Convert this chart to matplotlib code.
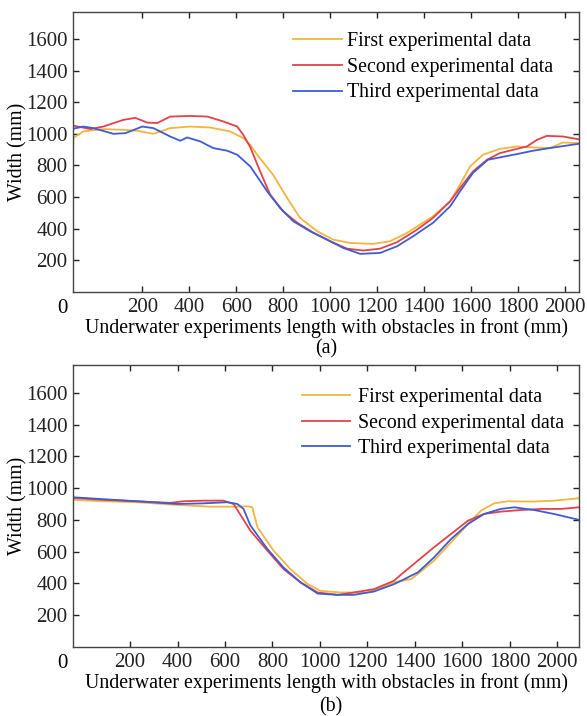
import matplotlib
matplotlib.use("Agg")
import matplotlib.pyplot as plt

plt.rcParams["font.family"] = ["Liberation Serif", "DejaVu Serif"]

# ---- panel (a) ----
a1_x = [-95, -51, 34, 119, 179, 247, 319, 404, 489, 574, 630, 660, 689, 757, 817, 872,
        945, 1013, 1085, 1183, 1255, 1328, 1383, 1438, 1511, 1553, 1596, 1651, 1723,
        1796, 1864, 1936, 1991, 2060]
a1_y = [973, 1015, 1030, 1025, 1019, 1000, 1036, 1046, 1040, 1015, 973, 930, 868, 741,
        594, 468, 384, 331, 310, 304, 321, 374, 426, 478, 573, 678, 794, 868, 905, 920,
        914, 910, 945, 941]

a2_x = [-95, -21, 34, 119, 170, 221, 264, 319, 404, 477, 545, 604, 630, 660, 702, 745,
        800, 860, 928, 1000, 1072, 1140, 1213, 1285, 1370, 1438, 1511, 1553, 1608, 1668,
        1723, 1796, 1838, 1881, 1923, 1991, 2060]
a2_y = [1052, 1030, 1046, 1088, 1101, 1071, 1068, 1109, 1113, 1109, 1078, 1046, 994, 915,
        762, 615, 510, 438, 375, 321, 274, 262, 274, 315, 394, 468, 573, 657, 762, 836,
        878, 905, 920, 962, 987, 983, 965]

a3_x = [-95, -51, -8, 77, 128, 200, 247, 319, 362, 391, 447, 502, 562, 604, 660, 732,
        787, 843, 915, 987, 1055, 1128, 1213, 1285, 1353, 1438, 1511, 1553, 1608, 1672,
        1723, 1796, 1864, 1936, 2009, 2060]
a3_y = [1032, 1046, 1036, 1000, 1004, 1046, 1036, 983, 956, 977, 952, 910, 893, 868, 794,
        636, 531, 447, 384, 331, 279, 241, 247, 289, 352, 437, 541, 636, 752, 836, 851,
        872, 893, 910, 926, 937]

# ---- panel (b) ----
b1_x = [-41, 86, 230, 399, 538, 652, 695, 715, 737, 805, 876, 948, 1003, 1088, 1200,
        1312, 1342, 1384, 1413, 1481, 1553, 1625, 1680, 1735, 1794, 1900, 1988, 2093]
b1_y = [926, 917, 911, 894, 883, 883, 885, 879, 753, 606, 490, 396, 353, 343, 343, 406,
        416, 427, 459, 543, 658, 774, 858, 904, 917, 915, 921, 936]

b2_x = [-41, 86, 230, 369, 424, 509, 593, 636, 665, 707, 779, 847, 919, 991, 1075, 1143,
        1228, 1312, 1342, 1413, 1481, 1553, 1625, 1692, 1764, 1849, 1934, 2018, 2093]
b2_y = [938, 926, 917, 907, 917, 921, 921, 900, 832, 732, 606, 490, 406, 343, 328, 343,
        364, 416, 455, 543, 627, 711, 795, 837, 852, 862, 869, 869, 879]

b3_x = [-41, 230, 399, 509, 610, 652, 678, 707, 779, 847, 919, 991, 1075, 1143, 1228,
        1312, 1342, 1384, 1413, 1481, 1553, 1625, 1692, 1764, 1820, 1904, 1988, 2093]
b3_y = [942, 917, 900, 904, 911, 900, 869, 765, 616, 500, 406, 336, 328, 328, 349, 395,
        416, 448, 469, 563, 679, 774, 837, 869, 879, 862, 837, 800]

labels = ["First experimental data", "Second experimental data", "Third experimental data"]
colors = ["#F2B53F", "#E2424A", "#3F5CD2"]
x_ticks = [200, 400, 600, 800, 1000, 1200, 1400, 1600, 1800, 2000]
y_ticks = [200, 400, 600, 800, 1000, 1200, 1400, 1600]
x_label = "Underwater experiments length with obstacles in front (mm)"
y_label = "Width (mm)"

FS_TICK = 15
FS = 14.3


def style_axes(ax, xlim, ylim):
    ax.set_xlim(*xlim)
    ax.set_ylim(*ylim)
    ax.set_xticks(x_ticks)
    ax.set_yticks(y_ticks)
    ax.tick_params(direction="in", length=4, width=1, top=True, right=True,
                   labelsize=FS_TICK, colors="#222222", pad=4)
    for sp in ax.spines.values():
        sp.set_color("#444444")
        sp.set_linewidth(1.0)
    ax.set_xlabel(x_label, fontsize=FS, labelpad=1)
    ax.set_ylabel(y_label, fontsize=FS, labelpad=-1)
    # "0" sits at the corner, left of the axis
    ax.text(-0.02, -0.025, "0", transform=ax.transAxes, fontsize=FS_TICK,
            ha="center", va="top")


fig = plt.figure(figsize=(5.87, 7.16), dpi=100)
ax_a = fig.add_axes([0.1244, 0.5922, 0.862, 0.391])
ax_b = fig.add_axes([0.1244, 0.0964, 0.862, 0.3939])

for xs, ys, c, lab in zip([a1_x, a2_x, a3_x], [a1_y, a2_y, a3_y], colors, labels):
    ax_a.plot(xs, ys, color=c, lw=1.3, label=lab)
for xs, ys, c, lab in zip([b1_x, b2_x, b3_x], [b1_y, b2_y, b3_y], colors, labels):
    ax_b.plot(xs, ys, color=c, lw=1.3, label=lab)

style_axes(ax_a, (-95, 2060), (0, 1770))
style_axes(ax_b, (-41, 2093), (0, 1775))

ax_a.legend(loc="upper left", bbox_to_anchor=(0.407, 0.977), frameon=False, fontsize=FS,
            handlelength=2.47, handletextpad=0.25, labelspacing=0.33, borderpad=0.2)
ax_b.legend(loc="upper left", bbox_to_anchor=(0.425, 0.967), frameon=False, fontsize=FS,
            handlelength=2.42, handletextpad=0.4, labelspacing=0.33, borderpad=0.2)

fig.text(0.555, 1 - 349 / 716, "(a)", fontsize=FS, ha="center", va="center")
fig.text(0.563, 1 - 707 / 716, "(b)", fontsize=FS, ha="center", va="center")

fig.savefig("out.png", dpi=100)
